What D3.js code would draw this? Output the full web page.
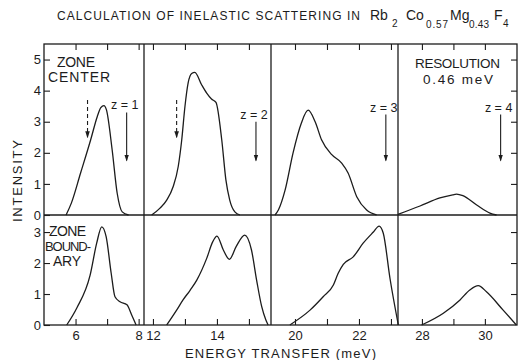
<!DOCTYPE html>
<html>
<head>
<meta charset="utf-8">
<script src="https://cdn.jsdelivr.net/npm/d3@7"></script>
<style>
  body { margin: 0; background: #fff; }
  svg { display: block; font-family: "Liberation Sans", Arial, sans-serif; }
</style>
</head>
<body>
<div id="chart"></div>
<script>
// axis values per energy window
const xDomains = [[5.0, 8.17], [11.72, 15.69], [19.25, 23.22], [27.24, 31.02]];
const xTicks = [[6, 7, 8], [12, 13, 14, 15], [20, 21, 22, 23], [28, 29, 30]];
const xTickLabels = [[6, 8], [12, 14], [20, 22], [28, 30]];
const yTicksCenter = [0, 1, 2, 3, 4, 5];
const yTicksBoundary = [0, 1, 2, 3];

// zone center curves (energy in meV, intensity)
const centerEnergy = [
  [5.70, 5.87, 6.16, 6.48, 6.69, 6.80, 6.90, 6.98, 7.16, 7.32, 7.48, 7.68],
  [11.96, 12.22, 12.43, 12.63, 12.79, 12.90, 13.00, 13.10, 13.21, 13.31, 13.52, 13.68, 13.83, 13.97, 14.15, 14.28, 14.40, 14.56, 14.72],
  [19.375, 19.48, 19.69, 19.94, 20.20, 20.41, 20.63, 20.83, 21.15, 21.46, 21.66, 21.93, 22.24, 22.55],
  [27.24, 27.94, 28.57, 28.98, 29.10, 29.30, 29.74, 30.16, 30.37]
];
const centerIntensity = [
  [0, 0.39, 1.35, 2.42, 3.17, 3.45, 3.52, 3.38, 2.1, 0.7, 0.1, 0],
  [0, 0.22, 0.48, 0.91, 1.56, 2.42, 3.49, 4.25, 4.55, 4.59, 4.19, 3.92, 3.73, 3.62, 2.42, 1.13, 0.48, 0.1, 0],
  [0, 0.16, 0.8, 2.0, 2.96, 3.37, 3.0, 2.42, 1.94, 1.67, 1.35, 0.59, 0.16, 0],
  [0.02, 0.29, 0.55, 0.65, 0.67, 0.62, 0.32, 0.06, 0]
];

// zone boundary curves
const boundaryEnergy = [
  [5.72, 6.04, 6.46, 6.67, 6.83, 6.97, 7.13, 7.25, 7.41, 7.63, 7.78, 7.92],
  [12.43, 12.74, 12.94, 13.16, 13.37, 13.68, 13.87, 14.0, 14.2, 14.39, 14.6, 14.87, 15.08, 15.24, 15.4, 15.53, 15.6],
  [19.84, 20.47, 20.88, 21.2, 21.35, 21.51, 21.82, 22.13, 22.45, 22.63, 22.76, 22.97, 23.23],
  [27.99, 28.68, 29.21, 29.52, 29.79, 30.05, 30.58, 31.0]
];
const boundaryIntensity = [
  [0, 0.55, 1.6, 2.64, 3.17, 2.85, 1.67, 0.91, 0.75, 0.65, 0.32, 0],
  [0, 0.48, 0.81, 1.12, 1.45, 2.15, 2.69, 2.87, 2.42, 2.12, 2.53, 2.9, 2.42, 1.45, 0.59, 0.16, 0],
  [0, 0.48, 0.91, 1.29, 1.67, 1.96, 2.2, 2.64, 3.0, 3.19, 2.96, 1.5, 0],
  [0, 0.38, 0.81, 1.13, 1.27, 1.07, 0.48, 0]
];

// marker arrows
const arrowEnergy = [7.62, 15.22, 22.84, 30.5];
const arrowTop = [3.3, 3.0, 3.23, 3.23];
const arrowTip = 1.75;
const arrowLabels = ['z = 1', 'z = 2', 'z = 3', 'z = 4'];
const dashedEnergy = [6.38, 12.74];
const dashedTop = 3.7, dashedTip = 2.5;

const width = 518, height = 360;
const colX = [44, 144, 271, 398, 517];
const rowTop = 44, rowMid = 215, rowBottom = 325;
const ink = '#1c1c1c';

const svg = d3.select('#chart').append('svg')
  .attr('width', width)
  .attr('height', height);

svg.append('defs').append('marker')
  .attr('id', 'head')
  .attr('markerUnits', 'userSpaceOnUse')
  .attr('viewBox', '0 -3 7 6')
  .attr('refX', 6).attr('refY', 0)
  .attr('markerWidth', 7).attr('markerHeight', 6)
  .attr('orient', 'auto')
  .append('path')
  .attr('d', 'M0,-2.3L7,0L0,2.3Z')
  .attr('fill', ink);

const xScales = xDomains.map((d, i) => d3.scaleLinear().domain(d).range([colX[i], colX[i + 1]]));
const yCenter = d3.scaleLinear().domain([0, 5.5]).range([rowMid, rowTop]);
const yBoundary = d3.scaleLinear().domain([0, 3.55]).range([rowBottom, rowMid]);

// *** axes *** //
const styleAxis = g => {
  g.select('.domain').remove();
  g.selectAll('line').attr('stroke', ink).attr('stroke-width', 1.1);
  g.selectAll('text').attr('fill', ink).style('font-size', '13px')
    .style('font-family', '"Liberation Sans", Arial, sans-serif');
};

xScales.forEach((x, i) => {
  svg.append('g')
    .attr('transform', `translate(0,${rowBottom})`)
    .call(d3.axisBottom(x).tickValues(xTicks[i]).tickSize(-6).tickPadding(6)
      .tickFormat(d => xTickLabels[i].includes(d) ? d : ''))
    .call(styleAxis);
  svg.append('g')
    .attr('transform', `translate(0,${rowTop})`)
    .call(d3.axisTop(x).tickValues(xTicks[i]).tickSize(-6).tickFormat(''))
    .call(styleAxis);
});

[[yCenter, yTicksCenter], [yBoundary, yTicksBoundary]].forEach(([y, ticks]) => {
  svg.append('g')
    .attr('transform', `translate(${colX[0]},0)`)
    .call(d3.axisLeft(y).tickValues(ticks).tickSize(-6).tickPadding(3).tickFormat(d3.format('d')))
    .call(styleAxis);
  svg.append('g')
    .attr('transform', `translate(${colX[4]},0)`)
    .call(d3.axisRight(y).tickValues(ticks.filter(t => t > 0)).tickSize(-6).tickFormat(''))
    .call(styleAxis);
});

// *** frame *** //
const frame = svg.append('g').attr('stroke', ink).attr('stroke-width', 1.3).attr('fill', 'none');
frame.append('rect')
  .attr('x', colX[0]).attr('y', rowTop)
  .attr('width', colX[4] - colX[0]).attr('height', rowBottom - rowTop);
frame.append('line')
  .attr('x1', colX[0]).attr('x2', colX[4])
  .attr('y1', rowMid).attr('y2', rowMid);
frame.selectAll('line.div')
  .data(colX.slice(1, 4))
  .join('line')
  .attr('class', 'div')
  .attr('x1', d => d).attr('x2', d => d)
  .attr('y1', rowTop).attr('y2', rowBottom);

// *** curves *** //
const drawCurves = (energies, intensities, y) => {
  energies.forEach((es, i) => {
    const line = d3.line()
      .x(d => xScales[i](d[0]))
      .y(d => y(d[1]))
      .curve(d3.curveMonotoneX);
    svg.append('path')
      .datum(es.map((e, j) => [e, intensities[i][j]]))
      .attr('d', line)
      .attr('fill', 'none')
      .attr('stroke', ink)
      .attr('stroke-width', 1.3);
  });
};
drawCurves(centerEnergy, centerIntensity, yCenter);
drawCurves(boundaryEnergy, boundaryIntensity, yBoundary);

// *** arrows *** //
arrowEnergy.forEach((e, i) => {
  const x = xScales[i](e);
  svg.append('line')
    .attr('x1', x).attr('x2', x)
    .attr('y1', yCenter(arrowTop[i])).attr('y2', yCenter(arrowTip))
    .attr('stroke', ink).attr('stroke-width', 1.1)
    .attr('marker-end', 'url(#head)');
  svg.append('text')
    .attr('x', x - 2).attr('y', yCenter(arrowTop[i]) - 3)
    .attr('text-anchor', 'middle')
    .attr('fill', ink)
    .style('font-size', '12.5px')
    .text(arrowLabels[i]);
});
dashedEnergy.forEach((e, i) => {
  const x = xScales[i](e);
  svg.append('line')
    .attr('x1', x).attr('x2', x)
    .attr('y1', yCenter(dashedTop)).attr('y2', yCenter(dashedTip))
    .attr('stroke', ink).attr('stroke-width', 1.1)
    .attr('stroke-dasharray', '4,3')
    .attr('marker-end', 'url(#head)');
});

// *** text *** //
const label = (txt, x, y, size, len) => {
  const t = svg.append('text')
    .attr('x', x).attr('y', y)
    .attr('fill', ink)
    .style('font-size', size + 'px')
    .text(txt);
  if (len) t.attr('textLength', len).attr('lengthAdjust', 'spacing');
  return t;
};

label('ZONE', 57, 67, 14, 38);
label('CENTER', 48, 82, 14, 62);
label('RESOLUTION', 415, 68, 13.5, 85);
label('0.46 meV', 423, 84, 13.5, 70);
label('ZONE', 49, 236, 14, 37);
label('BOUND-', 45, 251, 13, 46);
label('ARY', 53, 266, 14, 28);

// title with chemical formula
label('CALCULATION OF INELASTIC SCATTERING IN', 57, 20, 12, 303);
label('Rb', 370, 20, 14);
label('2', 392, 27, 10);
label('Co', 406, 20, 14);
label('0.57', 426, 28, 10, 22);
label('Mg', 450, 20, 14);
label('0.43', 469, 28, 10, 20);
label('F', 494, 20, 14);
label('4', 503, 27, 10);

label('ENERGY TRANSFER (meV)', 185, 358, 13, 191);

svg.append('text')
  .attr('transform', 'translate(22,222) rotate(-90)')
  .attr('fill', ink)
  .style('font-size', '13px')
  .attr('textLength', 82)
  .attr('lengthAdjust', 'spacing')
  .text('INTENSITY');
</script>
</body>
</html>
